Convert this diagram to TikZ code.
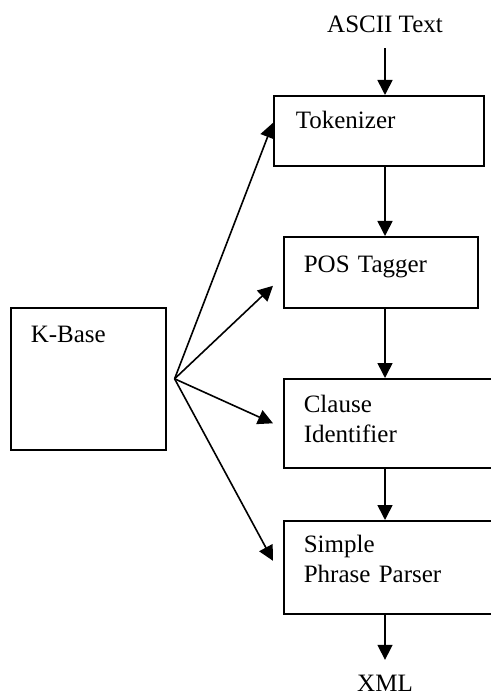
\documentclass[tikz,border=0pt]{standalone}
\usepackage{fontspec}
\setmainfont{Liberation Serif}
\usetikzlibrary{arrows.meta,positioning}

\begin{document}
\begin{tikzpicture}[x=0.5pt,y=-0.5pt,line width=0.8pt,
  every node/.style={font=\fontsize{12.5}{14.75}\selectfont},
  block/.style={draw,anchor=north west,align=left,inner ysep=0pt,inner xsep=10pt}]
  \tikzset{>={Triangle[length=7.5pt,width=7.5pt]}}
  \useasboundingbox (0,0) rectangle (491,695);
    \node [anchor=base,inner sep=0pt] (ascii) at (385,33) {ASCII Text};
    \node [block,inner xsep=11pt,text width=83pt,text height=16.5pt,text depth=18.5pt]
      (tokenizer) at (273,95) {Tokenizer};
    \node [block,text width=77pt,text height=18pt,text depth=17.5pt]
      (tagger) at (283,236) {POS Tagger};
    \node [block,text width=88.5pt,text height=17pt,text depth=27.5pt]
      (clause) at (283,378) {Clause\\Identifier};
    \node [block,text width=88.5pt,text height=16pt,text depth=30.5pt]
      (parser) at (283,520) {Simple\\Phrase Parser};
    \node [block,text width=57.5pt,text height=17.5pt,text depth=53.5pt]
      (kbase) at (10,307) {K-Base};
    \node [anchor=base,inner sep=0pt] (xml) at (385,691) {XML};
    % pipeline
    \draw[->] ([yshift=-7pt]ascii.south) -- (tokenizer.north -| ascii);
    \draw[->] (tokenizer.south -| ascii) -- (tagger.north -| ascii);
    \draw[->] (tagger.south -| ascii) -- (clause.north -| ascii);
    \draw[->] (clause.south -| ascii) -- (parser.north -| ascii);
    \draw[->] (parser.south -| ascii) -- ([yshift=7pt]xml.north);
    % knowledge base feeds every stage
    \coordinate (fan) at ([xshift=4pt]kbase.east);
    \draw[->] (fan) -- ([yshift=4pt]tokenizer.west);
    \draw[->] (fan) -- ([xshift=-5pt,yshift=-6.75pt]tagger.west);
    \draw[->] (fan) -- ([xshift=-5pt]clause.west);
    \draw[->] (fan) -- ([xshift=-5pt,yshift=3.25pt]parser.west);
\end{tikzpicture}
\end{document}
